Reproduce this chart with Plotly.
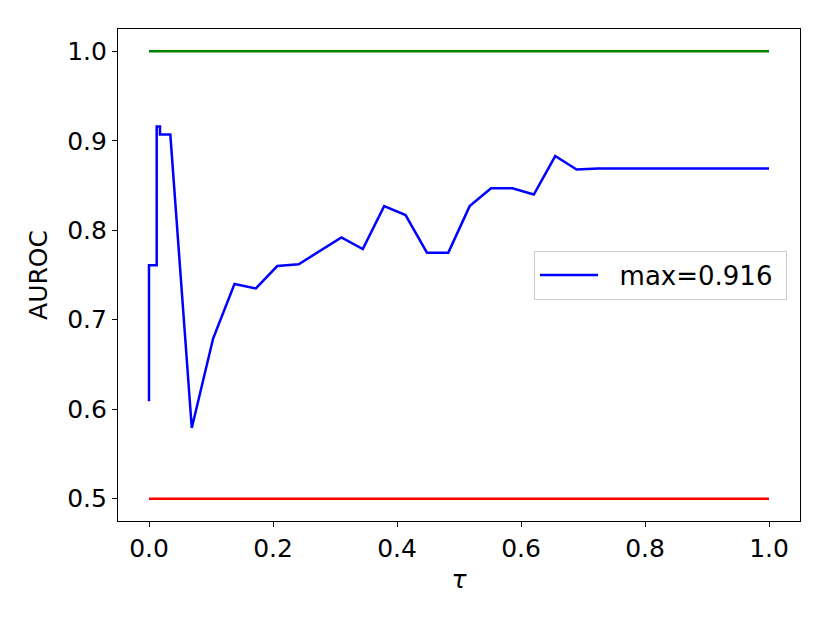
import plotly.graph_objects as go

# ── Data ───────────────────────────────────────────────────────────────────────
TAU = [0.0, 0.0, 0.0124, 0.0124, 0.0177, 0.0177, 0.0344, 0.0690, 0.1034,
       0.1379, 0.1724, 0.2069, 0.2414, 0.2759, 0.3103, 0.3448, 0.3793,
       0.4138, 0.4483, 0.4828, 0.5172, 0.5517, 0.5862, 0.6207, 0.6552,
       0.6897, 0.7241, 1.0]
AUROC = [0.609, 0.761, 0.761, 0.916, 0.916, 0.907, 0.907, 0.579, 0.679,
         0.740, 0.735, 0.760, 0.762, 0.777, 0.792, 0.779, 0.827,
         0.817, 0.775, 0.775, 0.827, 0.847, 0.847, 0.840, 0.883,
         0.868, 0.869, 0.869]
REF_X = [0.0, 1.0]
UPPER = [1.0, 1.0]
CHANCE = [0.5, 0.5]
LEGEND_LABEL = "max=0.916"

X_TICKS = [0.0, 0.2, 0.4, 0.6, 0.8, 1.0]
Y_TICKS = [0.5, 0.6, 0.7, 0.8, 0.9, 1.0]

FONT = dict(family="DejaVu Sans, sans-serif", size=25, color="black")
NBSP = "\u00a0"

fig = go.Figure()
fig.add_trace(go.Scatter(x=TAU, y=AUROC, mode="lines",
                         name=NBSP * 2 + LEGEND_LABEL + NBSP,
                         line=dict(color="#0000ff", width=2.5)))
fig.add_trace(go.Scatter(x=REF_X, y=UPPER, mode="lines", showlegend=False,
                         line=dict(color="#008000", width=2.5)))
fig.add_trace(go.Scatter(x=REF_X, y=CHANCE, mode="lines", showlegend=False,
                         line=dict(color="#ff0000", width=2.5)))

axis_style = dict(
    showline=True, linecolor="black", linewidth=1.2, mirror=True,
    showgrid=False, zeroline=False,
    ticks="outside", ticklen=5, tickwidth=1.2, tickcolor="black",
    tickfont=FONT,
)

# page body adds an 8px offset, so margins are shifted to compensate
fig.update_layout(
    width=830, height=623,
    paper_bgcolor="white", plot_bgcolor="white",
    font=FONT,
    margin=dict(l=110, r=38, t=21, b=110),
    xaxis=dict(range=[-0.05, 1.05], tickvals=X_TICKS, tickformat=".1f",
               title=dict(text="<i>τ</i>", font=FONT, standoff=8), **axis_style),
    yaxis=dict(range=[0.475, 1.025], tickvals=Y_TICKS, tickformat=".1f",
               title=dict(text="AUROC", font=FONT, standoff=12), **axis_style),
    legend=dict(x=0.981, y=0.5, xanchor="right", yanchor="middle",
                bgcolor="white", bordercolor="#cccccc", borderwidth=1,
                itemwidth=58,
                font=dict(family="DejaVu Sans, sans-serif", size=26, color="black")),
    showlegend=True,
)

fig.write_html("out.html")
